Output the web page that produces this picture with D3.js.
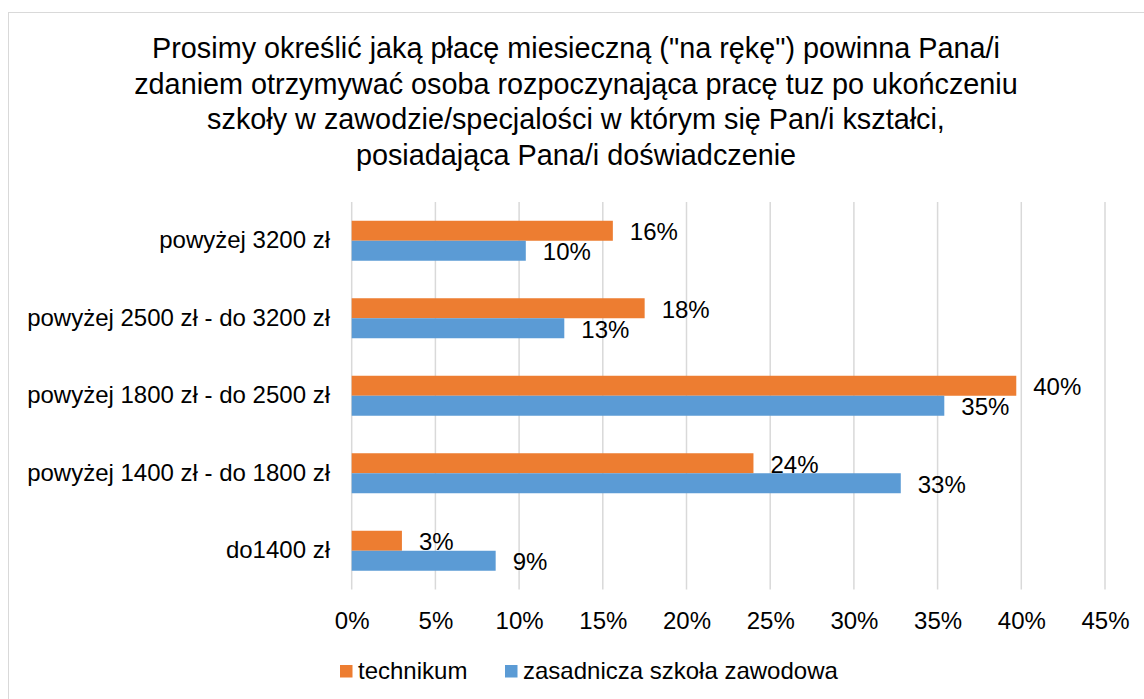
<!DOCTYPE html>
<html>
<head>
<meta charset="utf-8">
<script src="https://cdn.jsdelivr.net/npm/d3@7"></script>
<style>
  html, body { margin: 0; padding: 0; background: #fff; }
  svg { display: block; font-family: "Liberation Sans", Arial, sans-serif; }
</style>
</head>
<body>
<svg id="chart" width="1144" height="699"></svg>
<script>
const titleLines = [
  "Prosimy określić jaką płacę miesieczną (\"na rękę\") powinna Pana/i",
  "zdaniem otrzymywać osoba rozpoczynająca pracę tuz po ukończeniu",
  "szkoły w zawodzie/specjalości w którym się Pan/i kształci,",
  "posiadająca Pana/i doświadczenie"
];
const categories = [
  "powyżej 3200 zł",
  "powyżej 2500 zł - do 3200 zł",
  "powyżej 1800 zł - do 2500 zł",
  "powyżej 1400 zł - do 1800 zł",
  "do1400 zł"
];
const seriesNames = ["technikum", "zasadnicza szkoła zawodowa"];
const technikum = [15.6, 17.5, 39.7, 24.0, 3.0];
const zasadnicza = [10.4, 12.7, 35.4, 32.8, 8.6];
const xTicks = [0, 5, 10, 15, 20, 25, 30, 35, 40, 45];
const colors = ["#ED7D31", "#5B9BD5"];

const svg = d3.select("#chart");
const FONT = "Liberation Sans, Arial, sans-serif";

// outer frame
svg.append("rect").attr("x", 8.5).attr("y", 12.5).attr("width", 1145).attr("height", 700)
  .attr("fill", "#fff").attr("stroke", "#d9d9d9").attr("stroke-width", 1);

// title
const title = svg.append("text").attr("text-anchor", "middle").attr("font-size", 28.8).attr("fill", "#000");
titleLines.forEach((l, i) => {
  title.append("tspan").attr("x", 576).attr("y", 58 + i * 35.5).text(l);
});

const x = d3.scaleLinear().domain([0, 45]).range([351.7, 1105]);
const y = d3.scaleBand().domain(categories).range([202, 589.5]).paddingInner(0.484).paddingOuter(0.242);
const series = [technikum, zasadnicza];
const ySub = d3.scaleBand().domain([0, 1]).range([0, y.bandwidth()]);

// gridlines
svg.append("g").selectAll("line").data(xTicks).join("line")
  .attr("x1", d => x(d)).attr("x2", d => x(d))
  .attr("y1", 202).attr("y2", 589.5)
  .attr("stroke", "#d9d9d9").attr("stroke-width", 1.5);

// x axis labels
const xAxis = d3.axisBottom(x).tickValues(xTicks).tickFormat(d => d + "%").tickSize(0).tickPadding(0);
const gx = svg.append("g").attr("transform", "translate(0,612)").call(xAxis);
gx.select(".domain").remove();
gx.selectAll("text").attr("font-size", 24).attr("fill", "#000").attr("font-family", FONT);

// y axis labels
const yAxis = d3.axisLeft(y).tickSize(0).tickPadding(0);
const gy = svg.append("g").attr("transform", "translate(330,0)").call(yAxis);
gy.select(".domain").remove();
gy.selectAll("text").attr("font-size", 24).attr("fill", "#000").attr("font-family", FONT);

// bars
series.forEach((vals, si) => {
  const g = svg.append("g");
  g.selectAll("rect").data(vals).join("rect")
    .attr("x", x(0))
    .attr("y", (d, i) => y(categories[i]) + ySub(si))
    .attr("width", d => x(d) - x(0))
    .attr("height", ySub.bandwidth())
    .attr("fill", colors[si]);
  g.selectAll("text").data(vals).join("text")
    .attr("x", d => x(d) + 17)
    .attr("y", (d, i) => y(categories[i]) + ySub(si) + ySub.bandwidth() / 2 + 1)
    .attr("dy", "0.35em")
    .attr("font-size", 24).attr("fill", "#000")
    .text(d => Math.round(d) + "%");
});

// legend
const legendX = [340, 505];
seriesNames.forEach((n, i) => {
  svg.append("rect").attr("x", legendX[i]).attr("y", 665).attr("width", 12.5).attr("height", 12.5).attr("fill", colors[i]);
  svg.append("text").attr("x", legendX[i] + 18).attr("y", 671).attr("dy", "0.35em")
    .attr("font-size", 24).attr("fill", "#000").text(n);
});
</script>
</body>
</html>
